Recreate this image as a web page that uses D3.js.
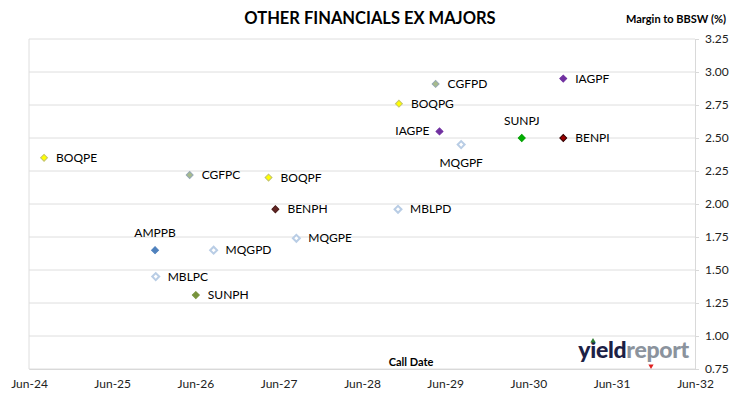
<!DOCTYPE html>
<html>
<head>
<meta charset="utf-8">
<script src="https://cdn.jsdelivr.net/npm/d3@7"></script>
<style>
  body { margin: 0; background: #fff; }
  svg { display: block; font-family: Lato, "Open Sans", sans-serif; }
</style>
</head>
<body>
<div id="chart"></div>
<script>
// securities, call dates and margins
const codes = ["BOQPE", "CGFPC", "BOQPF", "BENPH", "AMPPB", "MQGPD", "MQGPE", "MBLPC", "SUNPH",
  "MBLPD", "BOQPG", "CGFPD", "IAGPE", "MQGPF", "SUNPJ", "BENPI", "IAGPF"];
const callDates = ["2024-08-06", "2026-05-07", "2027-04-18", "2027-05-18", "2025-12-06", "2026-08-20",
  "2027-08-18", "2025-12-09", "2026-06-03", "2028-11-06", "2028-11-10", "2029-04-20", "2029-05-07",
  "2029-08-10", "2030-05-03", "2030-11-01", "2030-11-01"];
const margins = [2.35, 2.22, 2.20, 1.96, 1.65, 1.65, 1.74, 1.45, 1.31,
  1.96, 2.76, 2.91, 2.55, 2.45, 2.50, 2.50, 2.95];
// where each label sits relative to its marker
const labelSide = ["right", "right", "right", "right", "above", "right", "right", "right", "right",
  "right", "right", "right", "left", "below", "above", "right", "right"];
const yTicks = [0.75, 1.00, 1.25, 1.50, 1.75, 2.00, 2.25, 2.50, 2.75, 3.00, 3.25];
const xTickYears = [2024, 2025, 2026, 2027, 2028, 2029, 2030, 2031, 2032];

// marker colours per issuer
const fills = { BOQ: "#ffff00", CGF: "#a7bb8c", BEN: "#632523", AMP: "#4f81bd", MQG: "#ffffff", MBL: "#ffffff", SUN: "#77933c", IAG: "#7030a0" };
const strokes = { BOQ: "#c4c46a", CGF: "#95a8b4", BEN: "#4a1a18", AMP: "#4f81bd", MQG: "#b9cde5", MBL: "#b9cde5", SUN: "#77933c", IAG: "#7030a0" };

const data = codes.map((c, i) => ({
  code: c,
  date: d3.timeParse("%Y-%m-%d")(callDates[i]),
  margin: margins[i],
  side: labelSide[i]
}));

const W = 730, H = 399;
const margin = { top: 39, right: 35, bottom: 30, left: 29 };
const width = W - margin.left - margin.right,
  height = H - margin.top - margin.bottom;

const x = d3.scaleTime()
  .domain([new Date(2024, 5, 1), new Date(2032, 5, 1)])
  .range([0, width]);
const y = d3.scaleLinear()
  .domain([0.75, 3.25])
  .range([height, 0]);

const svg = d3.select("#chart").append("svg")
  .attr("width", W)
  .attr("height", H);

svg.append("text")
  .attr("x", 370).attr("y", 24)
  .attr("text-anchor", "middle")
  .attr("font-size", 16.5).attr("font-weight", "bold")
  .attr("fill", "#000")
  .text("OTHER FINANCIALS EX MAJORS");

svg.append("text")
  .attr("x", 726).attr("y", 23)
  .attr("text-anchor", "end")
  .attr("font-size", 11).attr("font-weight", "bold")
  .attr("fill", "#000")
  .text("Margin to BBSW (%)");

const g = svg.append("g")
  .attr("transform", `translate(${margin.left},${margin.top})`);

// gridlines + right axis
const yAxis = d3.axisRight(y)
  .tickValues(yTicks)
  .tickFormat(d3.format(".2f"))
  .tickSize(4)
  .tickPadding(6);
const gy = g.append("g")
  .attr("transform", `translate(${width},0)`)
  .call(yAxis);
gy.select(".domain").attr("stroke", "#d9d9d9");
gy.selectAll(".tick line").attr("stroke", "#d9d9d9");
gy.selectAll(".tick text").attr("font-size", 12).attr("fill", "#222").attr("font-family", "Lato, sans-serif");

g.append("g")
  .selectAll("line")
  .data(yTicks)
  .join("line")
  .attr("x1", 0).attr("x2", width)
  .attr("y1", d => y(d)).attr("y2", d => y(d))
  .attr("stroke", "#dedede");

g.append("line")
  .attr("x1", 0).attr("x2", 0)
  .attr("y1", 0).attr("y2", height)
  .attr("stroke", "#dedede");

// x axis labels
const xAxis = d3.axisBottom(x)
  .tickValues(xTickYears.map(yr => new Date(yr, 5, 1)))
  .tickFormat(d3.timeFormat("%b-%y"))
  .tickSize(0)
  .tickPadding(10);
const gx = g.append("g")
  .attr("transform", `translate(0,${height})`)
  .call(xAxis);
gx.select(".domain").attr("stroke", "#d9d9d9");
gx.selectAll(".tick text").attr("font-size", 12).attr("fill", "#222").attr("font-family", "Lato, sans-serif");

g.append("text")
  .attr("x", 382).attr("y", height - 3)
  .attr("text-anchor", "middle")
  .attr("font-size", 11).attr("font-weight", "bold")
  .text("Call Date");

// yieldreport logo
const logo = g.append("text")
  .attr("x", 660).attr("y", height - 11)
  .attr("text-anchor", "end")
  .attr("font-size", 23).attr("font-weight", "900")
  .attr("font-family", "Lato, sans-serif")
  .attr("letter-spacing", "-0.3");
logo.append("tspan").attr("fill", "#1c2145").text("yield");
logo.append("tspan").attr("fill", "#8b939d").text("report");
g.append("path")
  .attr("d", d3.symbol(d3.symbolTriangle, 12)())
  .attr("transform", `translate(${564},${height - 28})`)
  .attr("fill", "#2e7d32");
g.append("path")
  .attr("d", d3.symbol(d3.symbolTriangle, 12)())
  .attr("transform", `translate(${622},${height - 3}) rotate(180)`)
  .attr("fill", "#e02020");

// markers
const sq = d3.symbol(d3.symbolSquare, 24);
const pts = g.append("g").selectAll("g")
  .data(data)
  .join("g")
  .attr("transform", d => `translate(${x(d.date)},${y(d.margin)})`);

pts.append("path")
  .attr("d", sq)
  .attr("transform", "rotate(45)")
  .attr("fill", d => d.code === "SUNPJ" ? "#00b000" : d.code === "BENPI" ? "#9b0000" : fills[d.code.slice(0, 3)])
  .attr("stroke", d => d.code === "SUNPJ" ? "#00a000" : d.code === "BENPI" ? "#300000" : strokes[d.code.slice(0, 3)])
  .attr("stroke-width", d => ["MQG", "MBL"].includes(d.code.slice(0, 3)) ? 2 : 1);

pts.append("text")
  .attr("font-size", 12)
  .attr("fill", "#000")
  .attr("x", d => d.side === "right" ? 12 : d.side === "left" ? -10 : 0)
  .attr("y", d => d.side === "above" ? -13 : d.side === "below" ? 22 : 4)
  .attr("text-anchor", d => d.side === "right" ? "start" : d.side === "left" ? "end" : "middle")
  .text(d => d.code);
</script>
</body>
</html>
